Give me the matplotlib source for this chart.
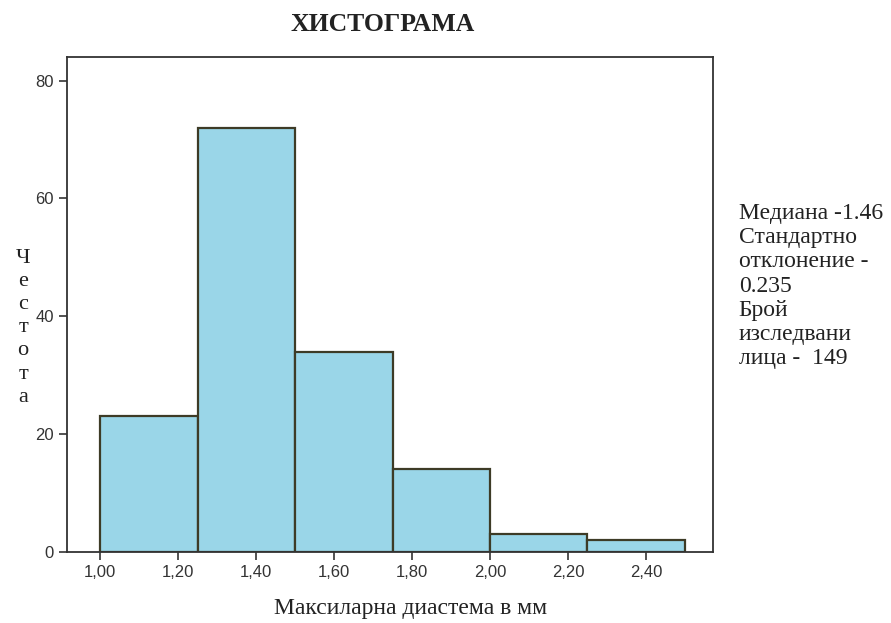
import matplotlib
matplotlib.use("Agg")
import matplotlib.pyplot as plt
import numpy as np

# Histogram data: bin edges (mm) and frequencies
bin_edges = [1.00, 1.25, 1.50, 1.75, 2.00, 2.25, 2.50]
counts = [23, 72, 34, 14, 3, 2]
x_ticks = [1.00, 1.20, 1.40, 1.60, 1.80, 2.00, 2.20, 2.40]
x_tick_labels = ["1,00", "1,20", "1,40", "1,60", "1,80", "2,00", "2,20", "2,40"]
y_ticks = [0, 20, 40, 60, 80]

title = "ХИСТОГРАМА"
x_label = "Максиларна диастема в мм"
y_label = "Честота"
stats_lines = ["Медиана -1.46", "Стандартно", "отклонение -", "0.235",
               "Брой", "изследвани", "лица -  149"]

serif = ["Liberation Serif", "DejaVu Serif"]
sans = ["Liberation Sans", "DejaVu Sans"]

fig = plt.figure(figsize=(8.91, 6.23), dpi=100)
ax = fig.add_axes([0.0752, 0.114, 0.725, 0.7945])

lefts = np.array(bin_edges[:-1])
widths = np.diff(bin_edges)
ax.bar(lefts, counts, width=widths, align="edge",
       facecolor="#9ad6e8", edgecolor="#3d3b26", linewidth=1.6, zorder=2)

ax.set_xlim(0.915, 2.572)
ax.set_ylim(0, 84)
ax.set_xticks(x_ticks)
ax.set_xticklabels(x_tick_labels, fontfamily=sans, fontsize=12, color="#333333")
ax.set_yticks(y_ticks)
ax.set_yticklabels([str(v) for v in y_ticks], fontfamily=sans, fontsize=12,
                   color="#333333")
ax.tick_params(axis="both", direction="out", length=6, width=1.2, color="#333333")

for s in ax.spines.values():
    s.set_color("#333333")
    s.set_linewidth(1.3)

fig.text(0.43, 0.960, title, ha="center", va="center",
         fontfamily=serif, fontsize=18.5, fontweight="bold", color="#222222")
fig.text(0.461, 0.024, x_label, ha="center", va="center",
         fontfamily=serif, fontsize=17, color="#222222")
fig.text(0.026, 0.474, "\n".join(y_label), ha="center", va="center",
         fontfamily=serif, fontsize=16, color="#222222", linespacing=1.3)
fig.text(0.829, 0.674, "\n".join(stats_lines), ha="left", va="top",
         fontfamily=serif, fontsize=17, color="#222222", linespacing=1.2)

fig.savefig("out.png", dpi=100)
